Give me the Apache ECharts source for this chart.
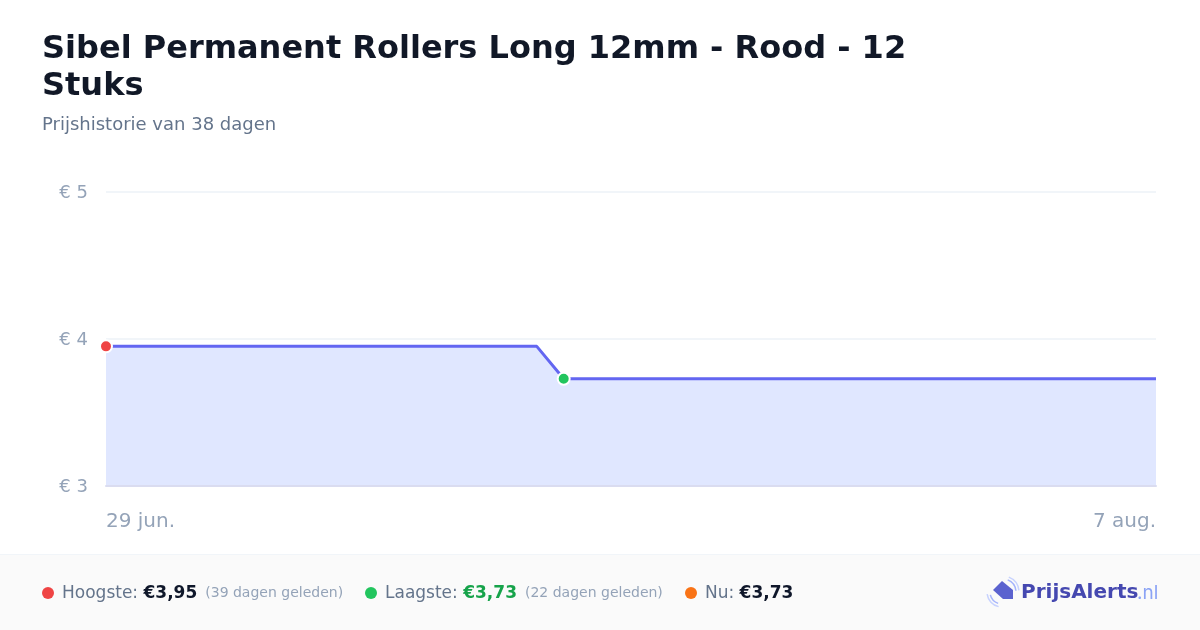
<!DOCTYPE html>
<html><head><meta charset="utf-8">
<style>html,body{margin:0;padding:0;background:#fff}#c{width:1200px;height:630px}</style>
<script src="https://cdn.jsdelivr.net/npm/echarts@6/dist/echarts.min.js"></script></head>
<body><div id="c"></div>
<script>
var titleLines = "Sibel Permanent Rollers Long 12mm - Rood - 12\nStuks";
var subtitle = "Prijshistorie van 38 dagen";
var dayOffsets = [0, 16, 17, 39];
var prices = [3.95, 3.95, 3.73, 3.73];
var yTicks = [3, 4, 5];
var xLabels = ["29 jun.", "7 aug."];
var highIdx = 0, lowIdx = 2;
var font = '"DejaVu Sans"';
var chart = echarts.init(document.getElementById('c'), null, {renderer:'canvas'});
function legendText(x, text){
  return {type:'text', left:x, top:585, style:{text:text, rich:rich}};
}
var rich = {
  l:{fontFamily:font,fontSize:17,fill:'#64748b'},
  b:{fontFamily:font,fontSize:17,fontWeight:'bold',fill:'#0f172a'},
  g:{fontFamily:font,fontSize:17,fontWeight:'bold',fill:'#16a34a'},
  s:{fontFamily:font,fontSize:14,fill:'#94a3b8'},
  sp:{fontFamily:font,fontSize:14,fill:'#94a3b8',width:8}
};
chart.setOption({
  animation:false,
  backgroundColor:'#fff',
  title:[
    {text:titleLines,left:42,top:31,padding:0,textStyle:{fontFamily:font,fontSize:32,fontWeight:'bold',color:'#111827',lineHeight:37}},
    {text:subtitle,left:42,top:116,padding:0,textStyle:{fontFamily:font,fontSize:18,fontWeight:'normal',color:'#64748b'}}
  ],
  grid:{left:106,right:44,top:192,height:294},
  xAxis:{type:'value',min:0,max:39,interval:39,
    axisLine:{show:true,onZero:false,lineStyle:{color:'#dadcf0',width:2}},axisTick:{show:false},splitLine:{show:false},z:4,
    axisLabel:{margin:26,fontFamily:font,fontSize:20,color:'#94a3b8',
      formatter:function(v){return v===0?xLabels[0]:xLabels[1];},
      alignMaxLabel:'right',alignMinLabel:'left'}},
  yAxis:{type:'value',min:yTicks[0],max:yTicks[2],interval:1,
    axisLine:{show:false},axisTick:{show:false},
    splitLine:{lineStyle:{color:'#f1f5f9',width:2}},
    axisLabel:{margin:18,fontFamily:font,fontSize:18,color:'#94a3b8',
      formatter:function(v){return '{a|€ '+v+'}';},
      rich:{a:{fontFamily:font,fontSize:18,color:'#94a3b8',padding:[2,0,0,0]}}}},
  series:[{
    type:'line',
    data:dayOffsets.map(function(d,i){return {
      value:[d,prices[i]],
      symbol:(i===highIdx||i===lowIdx)?'circle':'none',
      symbolSize:12,
      itemStyle:{color:i===highIdx?'#ef4444':'#22c55e',borderColor:'#fff',borderWidth:2}
    };}),
    showSymbol:true,
    lineStyle:{color:'#6366f1',width:3},
    areaStyle:{color:'#e0e7ff',opacity:1},
    z:3
  }],
  graphic:[
    {type:'rect',shape:{x:0,y:554,width:1200,height:76},style:{fill:'#fafafa'},z:-1},
    {type:'line',shape:{x1:0,y1:554.5,x2:1200,y2:554.5},style:{stroke:'#f1f5f9',lineWidth:1},z:-1},
    {type:'circle',shape:{cx:48,cy:593,r:6},style:{fill:'#ef4444'}},
    legendText(62,'{l|Hoogste: }{b|€3,95}{sp| }{s|(39 dagen geleden)}'),
    {type:'circle',shape:{cx:371,cy:593,r:6},style:{fill:'#22c55e'}},
    legendText(385,'{l|Laagste: }{g|€3,73}{sp| }{s|(22 dagen geleden)}'),
    {type:'circle',shape:{cx:691,cy:593,r:6},style:{fill:'#f97316'}},
    legendText(705,'{l|Nu: }{b|€3,73}'),
    {type:'text',left:1021,top:583,style:{text:'{a|PrijsAlerts}',rich:{
      a:{fontFamily:font,fontSize:20,fontWeight:'bold',fill:'#4548b0'}}}},
    {type:'text',left:1137,top:584,style:{text:'{n|.nl}',rich:{
      n:{fontFamily:'Inter',fontSize:19,fill:'#8ba3f5'}}}},
    {type:'arc',shape:{cx:1003,cy:592,r:13,startAngle:-1.2,endAngle:-0.1},style:{stroke:'#a5b4fc',fill:'transparent',lineWidth:1.5}},
    {type:'arc',shape:{cx:1003,cy:592,r:16,startAngle:-1.2,endAngle:-0.1},style:{stroke:'#c7d2fe',fill:'transparent',lineWidth:1.5}},
    {type:'arc',shape:{cx:1002,cy:592,r:12,startAngle:1.9,endAngle:2.9},style:{stroke:'#a5b4fc',fill:'transparent',lineWidth:1.5}},
    {type:'arc',shape:{cx:1002,cy:592,r:15,startAngle:1.8,endAngle:3.0},style:{stroke:'#c7d2fe',fill:'transparent',lineWidth:1.5}},
    {type:'polygon',shape:{points:[[993,590],[1002,581],[1013,590],[1013,599],[1003,599]]},style:{fill:'#5b62cf'},z:5}
  ]
});
</script></body></html>
